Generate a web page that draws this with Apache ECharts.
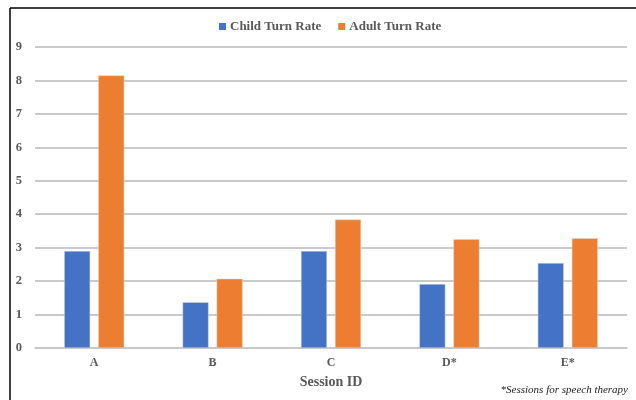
<!DOCTYPE html>
<html>
<head>
<meta charset="utf-8">
<script src="https://cdn.jsdelivr.net/npm/echarts@6/dist/echarts.min.js"></script>
<style>
  html, body { margin: 0; padding: 0; background: #fff; }
  #chart { width: 636px; height: 400px; }
</style>
</head>
<body>
<div id="chart"></div>
<script>
// Session categories and turn rates per session
const sessions = ['A', 'B', 'C', 'D*', 'E*'];
const childTurnRate = [2.90, 1.37, 2.90, 1.91, 2.54];
const adultTurnRate = [8.15, 2.07, 3.84, 3.25, 3.28];
const yTicks = { min: 0, max: 9, interval: 1 };

const serif = '"Liberation Serif", "Times New Roman", serif';
const textGrey = '#595959';

const chart = echarts.init(document.getElementById('chart'), null, { renderer: 'canvas' });

chart.setOption({
  backgroundColor: '#ffffff',
  animation: false,
  textStyle: { fontFamily: serif },
  graphic: [
    // frame lines along the top and left edges
    { type: 'line', shape: { x1: 10, y1: 8, x2: 636, y2: 8 }, style: { stroke: '#000', lineWidth: 1.5 } },
    { type: 'line', shape: { x1: 10, y1: 8, x2: 10, y2: 400 }, style: { stroke: '#000', lineWidth: 1.5 } },
    {
      type: 'text', right: 8, top: 385,
      style: { text: '*Sessions for speech therapy', font: 'italic 11px ' + serif, fill: '#222' }
    }
  ],
  legend: {
    top: 15,
    left: 214,
    itemWidth: 7,
    itemHeight: 7,
    itemGap: 17,
    icon: 'rect',
    itemStyle: { borderWidth: 0 },
    textStyle: { fontFamily: serif, fontWeight: 'bold', fontSize: 13, color: textGrey, padding: [0, 0, 0, -1] },
    data: ['Child Turn Rate', 'Adult Turn Rate']
  },
  grid: { left: 35, right: 9, top: 47, bottom: 52, containLabel: false },
  xAxis: {
    type: 'category',
    data: sessions,
    name: 'Session ID',
    nameLocation: 'middle',
    nameGap: 27,
    nameTextStyle: { fontFamily: serif, fontWeight: 'bold', fontSize: 14, color: textGrey },
    axisLine: { lineStyle: { color: '#c8c8c8', width: 1.5 } },
    axisTick: { show: false },
    axisLabel: { fontFamily: serif, fontWeight: 'bold', fontSize: 12, color: textGrey, margin: 9 }
  },
  yAxis: {
    type: 'value',
    min: yTicks.min,
    max: yTicks.max,
    interval: yTicks.interval,
    axisLine: { show: false },
    axisTick: { show: false },
    axisLabel: { fontFamily: serif, fontWeight: 'bold', fontSize: 12.5, color: textGrey, margin: 13 },
    splitLine: { lineStyle: { color: '#b8b8b8', width: 1.5 } }
  },
  series: [
    {
      name: 'Child Turn Rate',
      type: 'bar',
      data: childTurnRate,
      barWidth: 26,
      barGap: '31%',
      itemStyle: { color: '#4472C4', borderColor: '#d8d8d8', borderWidth: 0.5 }
    },
    {
      name: 'Adult Turn Rate',
      type: 'bar',
      data: adultTurnRate,
      barWidth: 26,
      barGap: '31%',
      itemStyle: { color: '#ED7D31', borderColor: '#d8d8d8', borderWidth: 0.5 }
    }
  ]
});
</script>
</body>
</html>
